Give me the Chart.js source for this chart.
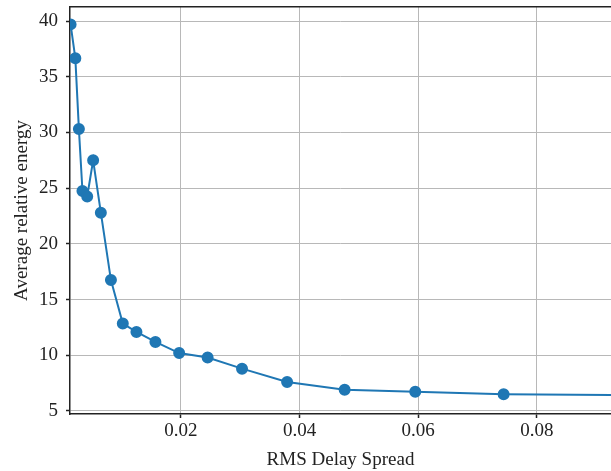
<!DOCTYPE html>
<html>
<head>
<meta charset="utf-8">
<script src="https://cdn.jsdelivr.net/npm/chart.js@4/dist/chart.umd.min.js"></script>
<style>
  html, body { margin: 0; padding: 0; background: #fff; }
  #wrap { width: 611px; height: 471px; }
</style>
</head>
<body>
<div id="wrap"><canvas id="chart"></canvas></div>
<script>
// values
const delaySpread = [0.0014, 0.0022, 0.0028, 0.0034, 0.0042, 0.0052, 0.0065, 0.0082, 0.0102, 0.0125,
  0.0157, 0.0197, 0.0245, 0.0303, 0.0379, 0.0476, 0.0595, 0.0744, 0.0935];
const relEnergy = [39.7, 36.65, 30.3, 24.75, 24.25, 27.5, 22.8, 16.75, 12.85, 12.1,
  11.2, 10.2, 9.8, 8.8, 7.6, 6.9, 6.72, 6.5, 6.42];
const xTicks = [0.02, 0.04, 0.06, 0.08];
const yTicks = [5, 10, 15, 20, 25, 30, 35, 40];

const blue = "#1f77b4";
const font = { family: "'Liberation Serif', 'DejaVu Serif', serif", size: 19 };
const spine = "#222";

const points = delaySpread.map((x, i) => ({ x: x, y: relEnergy[i] }));

new Chart(document.getElementById("chart"), {
  type: "line",
  data: {
    datasets: [{
      data: points,
      borderColor: blue,
      backgroundColor: blue,
      borderWidth: 2,
      pointRadius: 5,
      pointHoverRadius: 5,
      tension: 0,
    }],
  },
  options: {
    responsive: true,
    maintainAspectRatio: false,
    animation: false,
    events: [],
    layout: { autoPadding: false, padding: { top: 7, right: 0, left: 0, bottom: 0 } },
    plugins: { legend: { display: false }, tooltip: { enabled: false } },
    scales: {
      x: {
        type: "linear",
        min: 0.0013,
        max: 0.0925,
        afterBuildTicks: (s) => { s.ticks = xTicks.map((v) => ({ value: v })); },
        afterFit: (s) => { s.height = 57; s.paddingLeft = 0; s.paddingRight = 0; },
        grid: { color: "#b8b8b8", lineWidth: 1, tickLength: 4, tickColor: spine, tickWidth: 1.5 },
        border: { color: spine, width: 1.5 },
        ticks: { color: "#222", font: font, padding: 2, maxRotation: 0 },
        title: { display: true, text: "RMS Delay Spread", color: "#222", font: font, padding: { top: 0, bottom: 0 } },
      },
      x2: {
        type: "linear",
        position: "top",
        min: 0,
        max: 1,
        grid: { display: false },
        border: { color: spine, width: 1.5 },
        ticks: { display: false },
        afterFit: (s) => { s.height = 0; s.paddingLeft = 0; s.paddingRight = 0; },
      },
      y: {
        type: "linear",
        min: 4.73,
        max: 41.26,
        afterBuildTicks: (s) => { s.ticks = yTicks.map((v) => ({ value: v })); },
        afterFit: (s) => { s.width = 70; s.paddingTop = 0; s.paddingBottom = 0; },
        grid: { color: "#b8b8b8", lineWidth: 1, tickLength: 4, tickColor: spine, tickWidth: 1.5 },
        border: { color: spine, width: 1.5 },
        ticks: { color: "#222", font: font, padding: 8 },
        title: { display: true, text: "Average relative energy", color: "#222", font: font, padding: { top: 11, bottom: 4 } },
      },
    },
  },
});
</script>
</body>
</html>
